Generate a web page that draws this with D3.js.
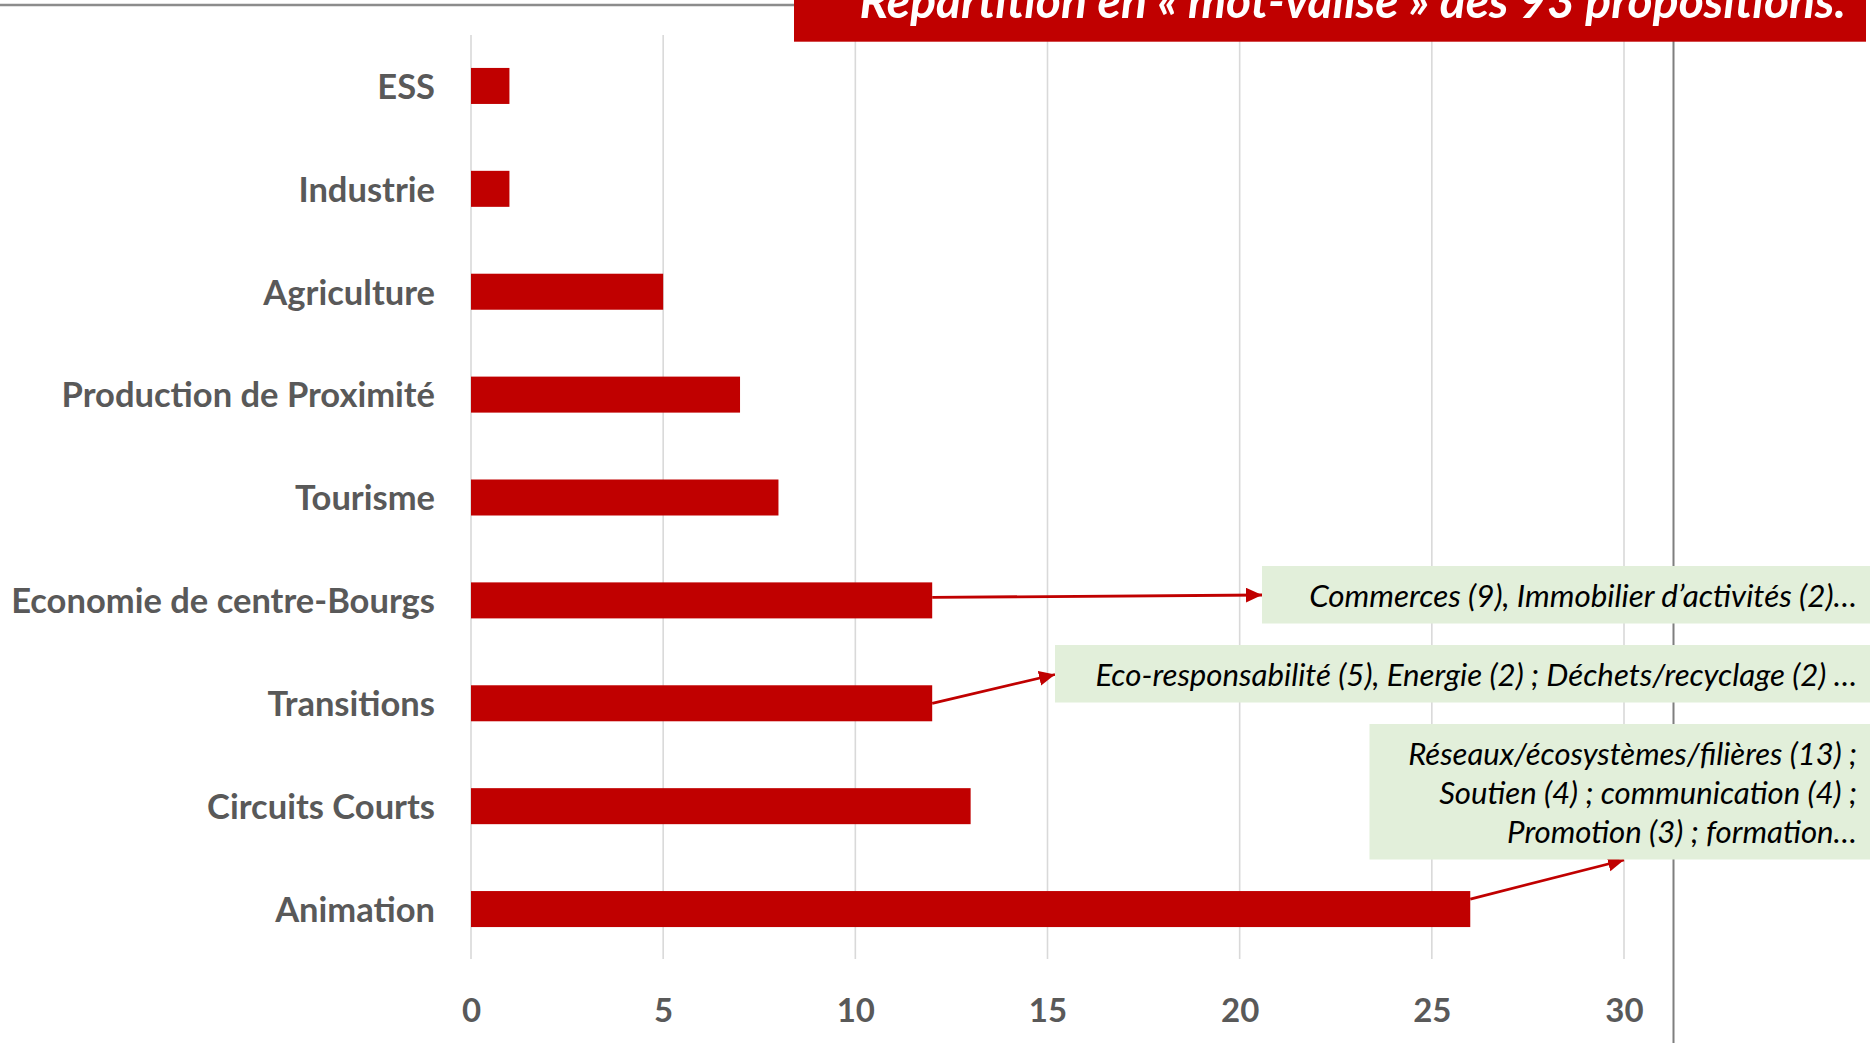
<!DOCTYPE html>
<html><head><meta charset="utf-8">
<script src="https://cdn.jsdelivr.net/npm/d3@7"></script>
<style>html,body{margin:0;padding:0;background:#fff;overflow:hidden}svg{display:block}</style>
</head><body>
<svg id="c" width="1870" height="1043"></svg>
<script>
// ---- data ----
const categories = ["ESS","Industrie","Agriculture","Production de Proximité","Tourisme","Economie de centre-Bourgs","Transitions","Circuits Courts","Animation"];
const values = [1,1,5,7,8,12,12,13,26];
const tickValues = [0,5,10,15,20,25,30];
const titleText = "Répartition en « mot-valise » des 93 propositions.";
const noteCategories = ["Economie de centre-Bourgs","Transitions","Animation"];
const noteLines = [
  ["Commerces (9), Immobilier d’activités (2)…"],
  ["Eco-responsabilité (5), Energie (2) ; Déchets/recyclage (2) …"],
  ["Réseaux/écosystèmes/filières (13) ;","Soutien (4) ; communication (4) ;","Promotion (3) ; formation…"]
];

// ---- layout ----
const W = 1870, H = 1043;
const red = "#C00000", labelGrey = "#595959";
const svg = d3.select("#c");
const x = d3.scaleLinear().domain([0,30]).range([471,1624]);
const y = d3.scaleBand().domain(categories).range([34.5,960.5]).paddingInner(0.65).paddingOuter(0.325);
const data = categories.map((c,i)=>({c, v: values[i]}));

function fit(sel, target){
  sel.each(function(){
    const n = d3.select(this);
    n.style("font-size","30px");
    const w = this.getComputedTextLength();
    n.style("font-size", (30*target/w)+"px");
  });
}

// top grey rule
svg.append("line").attr("x1",0).attr("x2",800).attr("y1",5).attr("y2",5)
  .attr("stroke","#8c8c8c").attr("stroke-width",2.5);

// gridlines
svg.append("g").selectAll("line").data(tickValues).join("line")
  .attr("x1",d=>x(d)).attr("x2",d=>x(d)).attr("y1",35).attr("y2",959)
  .attr("stroke","#d9d9d9").attr("stroke-width",1.6);

// vertical dark line
svg.append("line").attr("x1",1673.5).attr("x2",1673.5).attr("y1",40).attr("y2",H)
  .attr("stroke","#7f7f7f").attr("stroke-width",2);

// bars
svg.append("g").selectAll("rect").data(data).join("rect")
  .attr("x",x(0)).attr("y",d=>y(d.c)).attr("width",d=>x(d.v)-x(0)).attr("height",y.bandwidth())
  .attr("fill",red);

// category axis
const ya = svg.append("g").attr("transform",`translate(${x(0)},0)`)
  .call(d3.axisLeft(y).tickSize(0).tickPadding(36));
ya.select(".domain").remove();
ya.selectAll("text").attr("fill",labelGrey).style("font-family","Lato").style("font-weight","700");
const longest = ya.selectAll("text").filter(d=>d==="Economie de centre-Bourgs");
longest.style("font-size","30px");
const lw = longest.node().getComputedTextLength();
const catSize = 30*424/lw;
ya.selectAll("text").style("font-size",catSize+"px").attr("dy","0.37em");

// value axis
const xa = svg.append("g").attr("transform","translate(0,960)")
  .call(d3.axisBottom(x).tickValues(tickValues).tickSize(0).tickPadding(39));
xa.select(".domain").remove();
xa.selectAll("text").attr("fill",labelGrey).style("font-family","Lato").style("font-weight","700").style("font-size","33px");

// arrows
const defs = svg.append("defs");
defs.append("marker").attr("id","ah").attr("markerUnits","userSpaceOnUse")
  .attr("markerWidth",18).attr("markerHeight",16).attr("refX",16).attr("refY",7.5)
  .attr("orient","auto").append("path").attr("d","M0,0 L16,7.5 L0,15 Z").attr("fill",red);

const boxes = [
  {x0:1262, y0:566, y1:623.5, tip:[1262,595], dy:-3, base:[607]},
  {x0:1055, y0:645, y1:702.5, tip:[1055,674.5], dy:0, base:[686]},
  {x0:1369.5, y0:724, y1:859.5, tip:[1624,860], dy:-10, base:[765,804,842.5]}
];
const notes = noteCategories.map((c,i)=>({c, v: values[categories.indexOf(c)], lines: noteLines[i], b: boxes[i]}));

svg.append("g").selectAll("line").data(notes).join("line")
  .attr("x1",d=>x(d.v)).attr("y1",d=>y(d.c)+y.bandwidth()/2+d.b.dy)
  .attr("x2",d=>d.b.tip[0]).attr("y2",d=>d.b.tip[1])
  .attr("stroke",red).attr("stroke-width",2.8).attr("marker-end","url(#ah)");

// note boxes
const ng = svg.append("g").selectAll("g").data(notes).join("g");
ng.append("rect").attr("x",d=>d.b.x0).attr("y",d=>d.b.y0).attr("width",d=>W-d.b.x0).attr("height",d=>d.b.y1-d.b.y0)
  .attr("fill","#E2EFDA");
const targets = [[548],[762],[449,418,350]];
ng.each(function(d,i){
  const g = d3.select(this);
  d.lines.forEach((t,j)=>{
    const tx = g.append("text").attr("x",1857).attr("y",d.b.base[j]).attr("text-anchor","end")
      .attr("fill","#000").style("font-family","Lato").style("font-style","italic").text(t);
    fit(tx, targets[i][j]);
  });
});

// title box
svg.append("rect").attr("x",794).attr("y",-5).attr("width",1866-794).attr("height",46.7).attr("fill",red);
const tt = svg.append("text").attr("x",1846).attr("y",18).attr("text-anchor","end")
  .attr("fill","#fff").style("font-family","Lato").style("font-weight","700").style("font-style","italic").text(titleText);
fit(tt, 987);
</script>
</body></html>
